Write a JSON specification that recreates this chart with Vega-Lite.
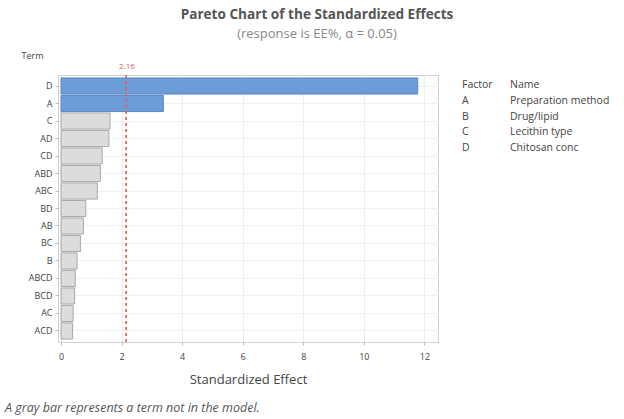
{
  "$schema": "https://vega.github.io/schema/vega-lite/v6.json",
  "padding": {"left": 4, "top": 7, "right": 0, "bottom": 0},
  "background": "white",
  "bounds": "flush",
  "spacing": 24,
  "config": {
    "font": "Open Sans",
    "view": {"stroke": "#d0d0d0", "strokeWidth": 1},
    "axis": {"labelColor": "#444", "titleColor": "#444", "domain": false, "gridColor": "#ececec", "tickColor": "#bbbbbb"}
  },
  "title": {
    "text": "Pareto Chart of the Standardized Effects",
    "subtitle": "(response is EE%, α = 0.05)",
    "anchor": "middle",
    "frame": "group",
    "dx": 259,
    "offset": 10,
    "fontSize": 13.6,
    "fontWeight": "bold",
    "color": "#555555",
    "subtitleFontSize": 13,
    "subtitleColor": "#888888",
    "subtitlePadding": 6
  },
  "datasets": {
    "effects": [
      {"term": "D", "effect": 11.78, "model": "in"},
      {"term": "A", "effect": 3.38, "model": "in"},
      {"term": "C", "effect": 1.62, "model": "out"},
      {"term": "AD", "effect": 1.58, "model": "out"},
      {"term": "CD", "effect": 1.36, "model": "out"},
      {"term": "ABD", "effect": 1.30, "model": "out"},
      {"term": "ABC", "effect": 1.20, "model": "out"},
      {"term": "BD", "effect": 0.82, "model": "out"},
      {"term": "AB", "effect": 0.74, "model": "out"},
      {"term": "BC", "effect": 0.64, "model": "out"},
      {"term": "B", "effect": 0.53, "model": "out"},
      {"term": "ABCD", "effect": 0.47, "model": "out"},
      {"term": "BCD", "effect": 0.45, "model": "out"},
      {"term": "AC", "effect": 0.40, "model": "out"},
      {"term": "ACD", "effect": 0.38, "model": "out"}
    ],
    "factors": [
      {"row": "h", "col": "Factor", "text": "Factor"},
      {"row": "h", "col": "Name", "text": "Name"},
      {"row": "A", "col": "Factor", "text": "A"},
      {"row": "A", "col": "Name", "text": "Preparation method"},
      {"row": "B", "col": "Factor", "text": "B"},
      {"row": "B", "col": "Name", "text": "Drug/lipid"},
      {"row": "C", "col": "Factor", "text": "C"},
      {"row": "C", "col": "Name", "text": "Lecithin type"},
      {"row": "D", "col": "Factor", "text": "D"},
      {"row": "D", "col": "Name", "text": "Chitosan conc"}
    ]
  },
  "hconcat": [
    {
      "width": 380,
      "height": 267,
      "title": {
        "text": "A gray bar represents a term not in the model.",
        "orient": "bottom",
        "anchor": "start",
        "frame": "group",
        "dx": -53,
        "offset": 16,
        "fontSize": 12.5,
        "fontStyle": "italic",
        "fontWeight": "normal",
        "color": "#555555"
      },
      "data": {"name": "effects"},
      "layer": [
        {
          "mark": {"type": "bar", "strokeWidth": 1},
          "encoding": {
            "y": {
              "field": "term", "type": "nominal", "sort": null,
              "scale": {"paddingInner": 0.08, "paddingOuter": 0.17},
              "axis": {
                "title": "Term", "titleAngle": 0, "titleAlign": "center", "titleX": -26, "titleY": -15,
                "titleFontSize": 9, "titleFontWeight": "normal",
                "labelFontSize": 9, "tickSize": 3, "grid": true, "gridColor": "#f0f0f0", "labelPadding": 3
              }
            },
            "x": {
              "field": "effect", "type": "quantitative",
              "scale": {"domain": [-0.1, 12.45], "nice": false, "zero": false},
              "axis": {
                "values": [0, 2, 4, 6, 8, 10, 12], "title": "Standardized Effect",
                "titleFontSize": 13, "titleFontWeight": "normal", "titlePadding": 12,
                "labelFontSize": 9, "tickSize": 3, "labelPadding": 7, "grid": true
              }
            },
            "fill": {
              "field": "model", "type": "nominal",
              "scale": {"domain": ["in", "out"], "range": ["#6d9dd8", "#dcdcdc"]},
              "legend": null
            },
            "stroke": {
              "field": "model", "type": "nominal",
              "scale": {"domain": ["in", "out"], "range": ["#5a86c0", "#a8a8a8"]},
              "legend": null
            }
          }
        },
        {
          "mark": {"type": "rule", "color": "#e8605f", "strokeDash": [3, 3], "strokeWidth": 1},
          "encoding": {
            "x": {
              "datum": 2.16, "type": "quantitative",
              "axis": {
                "orient": "top", "values": [2.16], "format": ".2f", "title": null,
                "grid": false, "ticks": false, "tickSize": 0, "labelPadding": 5,
                "labelColor": "#e05a5a", "labelFontSize": 8
              }
            }
          }
        }
      ],
      "resolve": {"axis": {"x": "independent"}}
    },
    {
      "width": 150,
      "height": 80,
      "view": {"stroke": null},
      "data": {"name": "factors"},
      "mark": {"type": "text", "align": "left", "baseline": "middle", "fontSize": 10.5, "color": "#444"},
      "encoding": {
        "x": {"field": "col", "type": "nominal", "scale": {"type": "point", "domain": ["Factor", "Name"], "range": [0, 48], "padding": 0}, "axis": null},
        "y": {"field": "row", "type": "nominal", "scale": {"type": "point", "domain": ["h", "A", "B", "C", "D"], "range": [10, 73], "padding": 0}, "axis": null},
        "text": {"field": "text"}
      }
    }
  ]
}
